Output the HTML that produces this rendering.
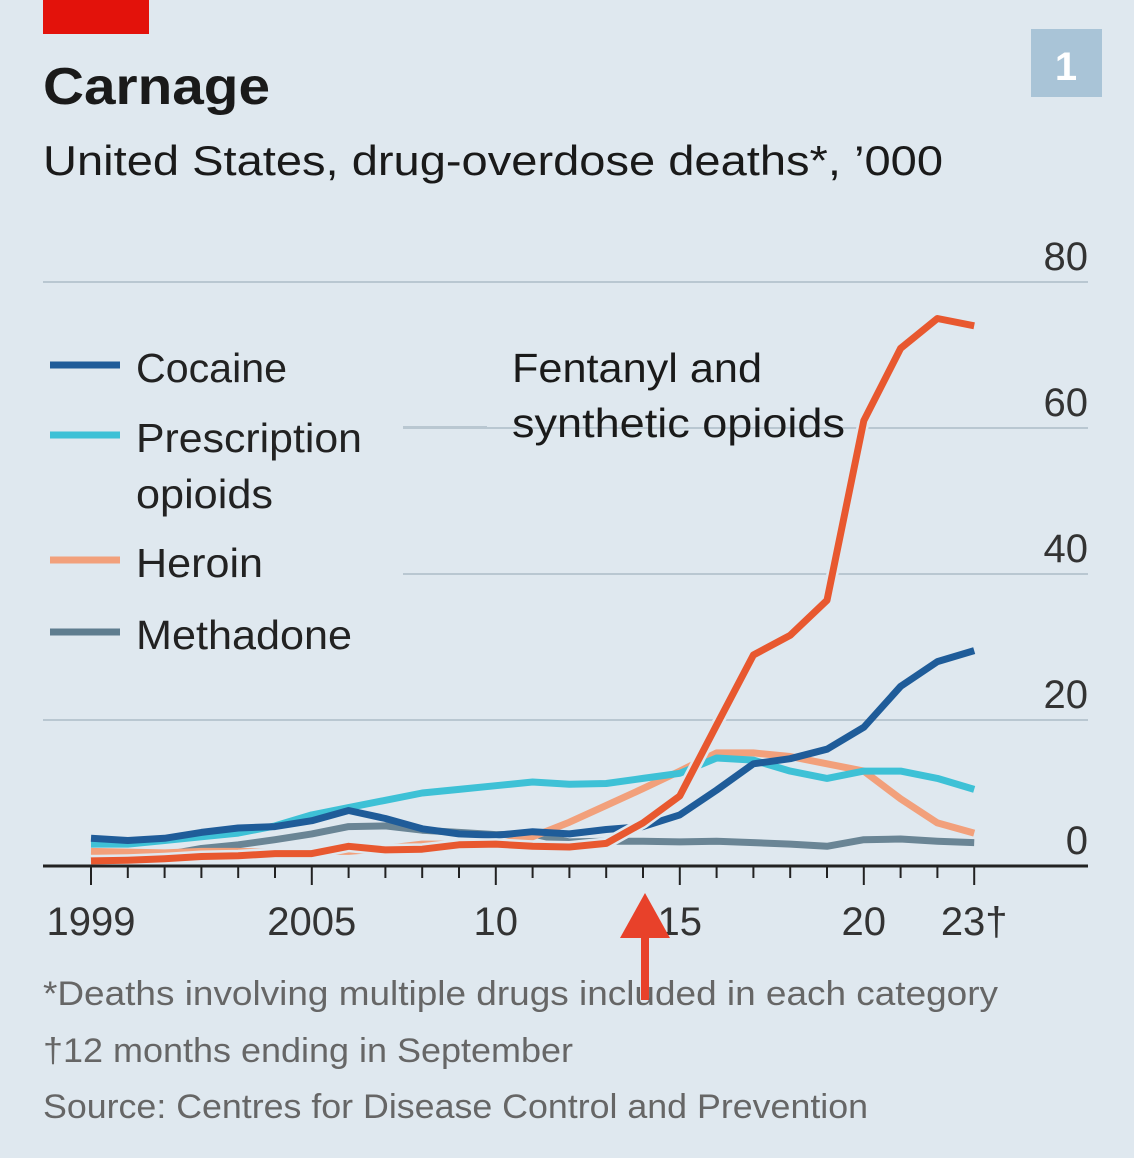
<!DOCTYPE html>
<html><head><meta charset="utf-8">
<style>
html,body{margin:0;padding:0;background:#dfe8ef;}
svg{display:block;}
text{font-family:"Liberation Sans",sans-serif;}
</style></head>
<body>
<svg id="chart" width="1134" height="1158" viewBox="0 0 1134 1158" xmlns="http://www.w3.org/2000/svg">
<rect x="0" y="0" width="1134" height="1158" fill="#dfe8ef"/>
<rect x="43" y="0" width="106" height="34" fill="#e3120b"/>
<rect x="1031" y="29" width="71" height="68" fill="#a9c4d7"/>
<text x="1066" y="80" fill="#fff" font-size="40" font-weight="bold" text-anchor="middle">1</text>
<text x="43" y="104" font-size="52" font-weight="bold" fill="#1a1a1a" textLength="227" lengthAdjust="spacingAndGlyphs">Carnage</text>
<text x="43" y="175" font-size="42" fill="#1a1a1a" textLength="900" lengthAdjust="spacingAndGlyphs">United States, drug-overdose deaths*, ’000</text>
<g id="grid"></g>
<g id="legend">
<line x1="50" y1="365" x2="120" y2="365" stroke="#1f5c99" stroke-width="7"/>
<text x="136" y="382" font-size="41" fill="#222" textLength="151" lengthAdjust="spacingAndGlyphs">Cocaine</text>
<line x1="50" y1="435" x2="120" y2="435" stroke="#3ec1d6" stroke-width="7"/>
<text x="136" y="452" font-size="41" fill="#222" textLength="226" lengthAdjust="spacingAndGlyphs">Prescription</text>
<text x="136" y="508" font-size="41" fill="#222" textLength="137" lengthAdjust="spacingAndGlyphs">opioids</text>
<line x1="50" y1="560" x2="120" y2="560" stroke="#f2a07b" stroke-width="7"/>
<text x="136" y="577" font-size="41" fill="#222" textLength="127" lengthAdjust="spacingAndGlyphs">Heroin</text>
<line x1="50" y1="632" x2="120" y2="632" stroke="#5f7d8f" stroke-width="7"/>
<text x="136" y="649" font-size="41" fill="#222" textLength="216" lengthAdjust="spacingAndGlyphs">Methadone</text>
</g>
<line x1="403" y1="427" x2="487" y2="427" stroke="#b9c7d1" stroke-width="2"/>
<text x="512" y="382" font-size="41" fill="#1a1a1a" textLength="250" lengthAdjust="spacingAndGlyphs">Fentanyl and</text>
<text x="512" y="437" font-size="41" fill="#1a1a1a" textLength="333" lengthAdjust="spacingAndGlyphs">synthetic opioids</text>
<g id="series"></g>
<g id="xaxis"></g>
<g>
<line x1="645" y1="935" x2="645" y2="1000" stroke="#e8412a" stroke-width="8"/>
<polygon points="620,938 670,938 645,893" fill="#e8412a"/>
</g>
<text x="43" y="1005" font-size="34" fill="#666" textLength="955" lengthAdjust="spacingAndGlyphs">*Deaths involving multiple drugs included in each category</text>
<text x="43" y="1062" font-size="34" fill="#666" textLength="530" lengthAdjust="spacingAndGlyphs">†12 months ending in September</text>
<text x="43" y="1118" font-size="34" fill="#666" textLength="825" lengthAdjust="spacingAndGlyphs">Source: Centres for Disease Control and Prevention</text>
</svg>
<script>
const years = [1999,2000,2001,2002,2003,2004,2005,2006,2007,2008,2009,2010,2011,2012,2013,2014,2015,2016,2017,2018,2019,2020,2021,2022,2023];
const methadone = [0.8,1,1.5,2.4,2.9,3.6,4.4,5.4,5.5,4.9,4.6,4.3,4.4,3.3,3.4,3.4,3.3,3.4,3.2,3,2.7,3.6,3.7,3.4,3.2];
const heroin = [2,1.9,1.8,2,2,1.9,2,2,2.4,3,3,3,4,6,8.3,10.6,13,15.5,15.5,15,14,13,9.2,5.9,4.5];
const prescription = [3,3,3.5,4,4.5,5.5,7,8,9,10,10.5,11,11.5,11.2,11.3,12,12.7,14.8,14.5,13,12,13,13,12,10.5];
const cocaine = [3.8,3.5,3.8,4.6,5.2,5.4,6.2,7.6,6.5,5.1,4.4,4.2,4.7,4.4,5,5.4,7,10.4,14,14.7,16,19,24.6,28,29.5];
const fentanyl = [0.7,0.8,1,1.3,1.4,1.7,1.7,2.7,2.2,2.3,2.9,3,2.7,2.6,3.1,5.9,9.6,19.3,28.9,31.6,36.4,61,70.9,75,74];
const yTicks = [0,20,40,60,80];
const xLabels = [[1999,"1999"],[2005,"2005"],[2010,"10"],[2015,"15"],[2020,"20"],[2023,"23†"]];

const NS="http://www.w3.org/2000/svg";
const xs = y => 91 + (y-1999)*36.8;
const ys = v => 866 - v*7.3;
function mk(tag, attrs, parent){const e=document.createElementNS(NS,tag);for(const k in attrs)e.setAttribute(k,attrs[k]);parent.appendChild(e);return e;}

const grid=document.getElementById('grid');
yTicks.forEach(v=>{
  if(v>0){
    const x1 = (v===40||v===60)?403:43;
    const l=mk('line',{x1:x1,x2:1088,y1:ys(v),y2:ys(v),stroke:'#b9c7d1','stroke-width':2},grid);
    
    
  }
  const t=mk('text',{x:1088,y:ys(v)-12,'font-size':40,fill:'#333','text-anchor':'end'},grid);
  t.textContent=v;
  
  
});

const ser=document.getElementById('series');
function drawLine(vals,color,name,halo){
  const pts=vals.map((v,i)=>xs(years[i]).toFixed(1)+','+ys(v).toFixed(1)).join(' ');
  if(halo){const h=mk('polyline',{points:pts,fill:'none',stroke:'#dfe8ef','stroke-width':12,'stroke-linejoin':'round'},ser);
    
    }
  const p=mk('polyline',{points:pts,fill:'none',stroke:color,'stroke-width':7,'stroke-linejoin':'round'},ser);
  
  
}
drawLine(methadone,'#6a8595','line-methadone',false);
drawLine(heroin,'#f2a07b','line-heroin',false);
drawLine(prescription,'#3ec1d6','line-prescription-opioids',false);
drawLine(cocaine,'#1f5c99','line-cocaine',false);
drawLine(fentanyl,'#e8582f','line-fentanyl',true);

const xa=document.getElementById('xaxis');
const ax=mk('line',{x1:43,x2:1088,y1:866,y2:866,stroke:'#222','stroke-width':3},xa);


years.forEach(y=>{
  const major = xLabels.some(l=>l[0]===y);
  const t=mk('line',{x1:xs(y),x2:xs(y),y1:866,y2:major?885:878,stroke:'#222','stroke-width':2},xa);
  
  
});
xLabels.forEach(l=>{
  const t=mk('text',{x:xs(l[0]),y:935,'font-size':40,fill:'#333','text-anchor':'middle'},xa);
  t.textContent=l[1];
  
  
});
</script>
</body></html>
